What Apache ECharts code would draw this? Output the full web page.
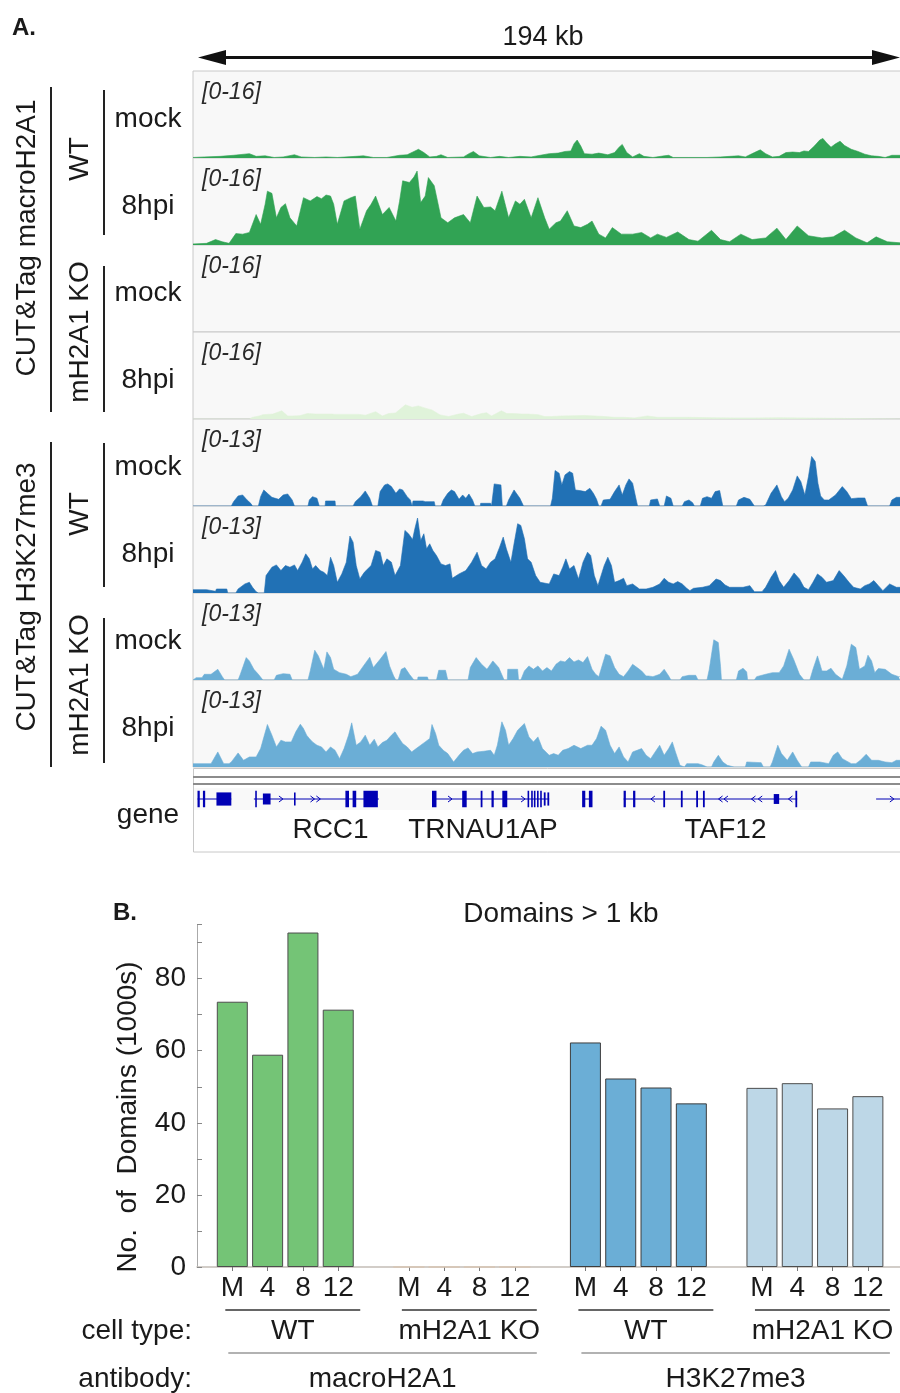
<!DOCTYPE html>
<html><head><meta charset="utf-8">
<script src="https://cdn.jsdelivr.net/npm/echarts@6/dist/echarts.min.js"></script>
<style>html,body{margin:0;padding:0;background:#fff}#c{width:900px;height:1393px}</style>
</head><body><div id="c"></div>
<script>
// ---------------- DATA ----------------
// Genomic window: 194 kb, split into 1568 bins (~124 bp each)
const WINDOW_KB = 194;
const WINDOW_BINS = 1568;

// CUT&Tag macroH2A1 signal, [bin, value]
const macroWT_mock = [[0,0.1],[25,0.2],[60,0.3],[90,0.5],[125,0.8],[140,0.3],[160,0.4],[180,0.1],[200,0.2],[225,0.6],[240,0.2],[270,0.1],[295,0.2],[320,0.1],[360,0.3],[378,0.4],[400,0.1],[430,0.1],[458,0.5],[475,0.6],[490,1.2],[500,1.6],[512,1.0],[525,0.2],[540,0.3],[550,0.6],[565,0.1],[600,0.2],[612,0.8],[622,1.2],[635,0.4],[660,0.1],[680,0.3],[700,0.1],[725,0.3],[750,0.2],[770,0.5],[790,0.8],[810,0.9],[825,1.2],[838,1.3],[845,2.6],[852,3.3],[860,2.2],[868,0.8],[885,0.7],[900,0.9],[920,0.6],[935,1.0],[945,2.0],[952,2.5],[962,1.0],[975,0.2],[990,0.8],[1000,0.3],[1020,0.1],[1045,0.4],[1055,0.5],[1065,0.1],[1100,0.1],[1140,0.1],[1170,0.2],[1190,0.3],[1210,0.4],[1225,0.2],[1245,1.0],[1258,1.5],[1270,0.8],[1285,0.2],[1300,0.3],[1315,1.0],[1330,1.1],[1345,1.0],[1355,1.3],[1365,1.2],[1378,2.2],[1390,3.3],[1397,3.6],[1405,2.8],[1415,2.0],[1425,2.6],[1435,3.1],[1445,2.3],[1460,1.6],[1475,1.2],[1490,0.7],[1505,0.4],[1520,0.3],[1535,0.1],[1550,0.5],[1568,0.5]];
const macroWT_8hpi = [[0,0.2],[30,0.3],[50,1.0],[65,0.6],[80,0.3],[95,2.1],[110,2.0],[125,2.3],[140,5.6],[150,3.8],[160,7.5],[165,9.9],[175,9.5],[185,5.0],[195,6.9],[205,7.6],[215,5.0],[230,3.5],[245,8.7],[260,8.1],[275,8.9],[285,8.5],[295,9.2],[305,9.0],[312,7.5],[320,3.8],[335,8.1],[350,8.7],[360,9.0],[370,2.9],[385,6.3],[395,7.5],[405,9.0],[420,5.6],[435,6.9],[450,4.4],[458,8.0],[465,11.8],[480,11.5],[490,12.5],[497,13.6],[505,7.8],[515,9.0],[522,12.4],[535,10.9],[545,7.0],[550,5.0],[565,4.1],[580,5.0],[600,5.6],[615,4.1],[630,9.0],[645,6.9],[660,7.0],[670,6.3],[685,9.9],[700,5.0],[715,8.1],[725,7.5],[735,8.4],[750,5.0],[765,8.7],[780,5.0],[790,2.9],[805,4.1],[815,4.4],[830,6.3],[845,3.5],[860,3.2],[875,3.8],[885,4.4],[900,2.0],[915,1.3],[930,3.2],[950,2.0],[975,2.0],[995,2.3],[1015,1.3],[1030,2.0],[1050,1.4],[1075,2.4],[1100,1.0],[1120,0.7],[1150,2.7],[1170,1.0],[1190,0.6],[1215,2.0],[1240,1.0],[1270,1.3],[1295,3.1],[1315,1.0],[1340,3.5],[1365,1.7],[1395,1.3],[1420,1.5],[1445,2.7],[1470,1.3],[1495,0.4],[1515,1.5],[1540,0.6],[1568,0.4]];
const macroKO_mock = [[0,0],[1568,0]];
const macroKO_8hpi = [[0,0],[125,0],[132,0.3],[147,0.55],[155,0.8],[177,0.9],[197,1.5],[210,0.55],[221,0.55],[236,0.6],[254,1.0],[272,0.9],[309,0.9],[316,0.85],[368,0.85],[383,0.7],[405,1.35],[420,0.55],[434,1.0],[449,1.1],[471,2.6],[486,2.15],[500,2.4],[515,2.0],[530,1.65],[548,0.75],[567,0.45],[589,0.9],[600,1.05],[618,0.45],[640,1.0],[651,1.15],[662,0.55],[684,1.5],[696,1.0],[710,1.0],[729,0.9],[743,0.9],[765,0.8],[780,0.45],[795,0.45],[817,0.55],[846,0.6],[868,0.65],[891,0.55],[913,0.45],[935,0.3],[957,0.3],[979,0.2],[1008,0.55],[1030,0.3],[1060,0.3],[1100,0.3],[1150,0.25],[1200,0.2],[1250,0.2],[1300,0.25],[1350,0.2],[1400,0.15],[1450,0.1],[1500,0.05],[1568,0]];

// CUT&Tag H3K27me3 signal, [bin, value]
const h3WT_mock = [[0,0],[85,0],[90,0.65],[100,1.5],[110,1.65],[120,0.9],[128,0.4],[132,0],[145,0],[150,1.4],[157,2.4],[165,1.9],[175,1.3],[190,1.0],[200,1.65],[210,1.8],[220,0.9],[225,0],[255,0],[258,0.9],[265,1.4],[275,1.15],[280,0],[293,0],[294,0.75],[315,0.75],[316,0],[355,0],[360,0.65],[372,1.4],[382,2.25],[392,1.15],[398,0],[410,0],[415,2.15],[425,3.15],[432,3.3],[440,2.9],[450,1.9],[458,2.55],[465,2.4],[475,1.4],[482,0.9],[486,0],[488,0.75],[510,0.75],[515,0.65],[535,0.65],[537,0],[550,0],[555,0.9],[565,1.9],[573,2.4],[580,2.15],[590,1.0],[598,1.65],[605,1.15],[612,1.8],[620,0.9],[625,0],[637,0],[638,0.4],[660,0.4],[662,0],[665,0],[668,3.3],[683,3.15],[686,0],[695,0],[700,0.9],[712,2.4],[725,1.15],[733,0],[793,0],[797,1.15],[803,5.3],[812,4.9],[818,3.15],[825,4.65],[835,5.15],[842,4.9],[848,2.4],[858,2.3],[870,2.15],[880,2.65],[888,1.9],[895,1.0],[900,0],[905,0],[910,0.9],[925,1.0],[935,2.15],[945,3.15],[952,1.65],[960,3.15],[967,4.05],[975,3.4],[983,0.9],[986,0],[1012,0],[1015,0.9],[1030,1.05],[1035,0],[1045,0],[1050,1.5],[1060,1.15],[1065,0],[1085,0],[1090,0.65],[1100,0.9],[1108,0.5],[1112,0],[1125,0],[1130,1.15],[1140,1.4],[1150,1.15],[1158,2.15],[1168,2.3],[1175,0],[1205,0],[1210,0.9],[1222,1.3],[1235,1.0],[1245,0],[1265,0],[1270,0.15],[1282,1.9],[1295,3.15],[1305,1.4],[1312,0.65],[1320,1.15],[1330,2.4],[1340,4.5],[1348,3.65],[1357,1.65],[1365,4.4],[1372,7.4],[1380,6.65],[1386,3.4],[1392,1.5],[1400,0.9],[1410,0.9],[1425,1.65],[1440,2.9],[1450,2.15],[1460,1.1],[1475,1.2],[1490,1.2],[1496,0],[1545,0],[1550,0.9],[1560,1.3],[1568,1.3]];
const h3WT_8hpi = [[0,0.5],[30,0.5],[32,0.25],[50,0.25],[52,0.6],[75,0.6],[77,0],[95,0],[100,0.6],[115,1.35],[125,1.6],[132,0.85],[140,0.2],[145,0],[158,0],[162,2.6],[175,3.85],[185,4.2],[195,3.35],[205,4.1],[215,3.85],[225,4.2],[232,3.35],[242,4.6],[250,5.85],[258,5.1],[265,3.6],[272,4.1],[282,3.35],[290,3.1],[298,2.6],[305,5.35],[312,4.1],[320,1.6],[330,2.85],[340,4.6],[348,8.5],[355,7.6],[362,4.1],[370,2.1],[380,3.1],[395,4.1],[405,6.35],[415,6.1],[422,4.1],[430,5.1],[440,4.6],[448,2.6],[460,4.1],[470,9.35],[478,8.85],[487,8.0],[492,9.6],[498,11.2],[505,7.85],[512,8.85],[518,6.6],[525,7.35],[532,6.35],[540,5.6],[550,4.35],[560,4.1],[570,4.35],[575,2.2],[590,2.85],[605,3.35],[618,4.6],[630,6.1],[640,4.1],[650,3.6],[660,4.6],[670,5.1],[680,6.85],[688,8.35],[695,6.6],[705,4.6],[712,7.35],[720,10.35],[727,10.1],[735,8.1],[742,5.1],[750,4.6],[760,2.6],[770,1.6],[790,1.35],[800,2.85],[812,2.6],[820,3.85],[827,5.1],[835,3.6],[845,4.1],[855,2.1],[865,4.6],[875,6.1],[882,5.6],[890,2.6],[898,1.1],[912,4.1],[920,5.35],[928,4.1],[935,1.6],[945,1.85],[955,2.2],[962,1.1],[975,1.35],[990,0.6],[1005,0.6],[1020,0.85],[1035,1.35],[1045,2.2],[1055,1.6],[1065,1.35],[1075,1.7],[1085,1.35],[1095,0.7],[1102,0.35],[1110,0.7],[1130,0.85],[1145,1.1],[1160,2.1],[1170,1.85],[1180,1.2],[1190,0.85],[1200,0.85],[1220,0.85],[1235,1.1],[1245,0.2],[1262,0.2],[1270,0.85],[1282,2.35],[1292,3.35],[1300,1.85],[1310,0.85],[1322,1.85],[1333,3.0],[1345,2.1],[1355,0.85],[1365,0.5],[1375,1.6],[1385,2.85],[1395,2.35],[1405,1.6],[1420,1.85],[1433,3.35],[1443,2.6],[1455,1.6],[1465,0.85],[1480,0.6],[1490,1.1],[1500,1.35],[1510,1.85],[1520,1.1],[1530,0.35],[1545,1.35],[1560,0.85],[1568,0.85]];
const h3KO_mock = [[0,0],[7,0.35],[20,0.35],[25,0.85],[40,0.85],[55,1.6],[65,0.5],[70,0],[100,0],[105,0.85],[118,3.35],[125,2.85],[135,1.6],[145,0.85],[155,0],[180,0],[185,0.7],[200,0.95],[215,0.85],[220,0],[255,0],[260,1.35],[270,4.45],[278,3.6],[290,1.6],[297,4.2],[305,3.35],[312,1.6],[325,1.1],[340,0.85],[350,0.5],[365,0.85],[378,2.1],[392,3.4],[400,1.85],[415,3.1],[428,4.25],[436,2.1],[445,0.6],[450,0],[455,0],[462,1.6],[470,1.85],[480,0.85],[490,0],[498,0],[499,0.45],[520,0.45],[522,0],[540,0],[545,1.45],[560,1.45],[565,0],[610,0],[615,1.85],[628,3.35],[640,2.35],[652,1.6],[665,2.85],[678,1.85],[690,0],[697,0],[698,1.6],[720,1.6],[722,0],[727,0],[735,1.35],[745,2.1],[755,1.6],[765,2.1],[775,1.35],[785,1.85],[795,1.35],[805,2.35],[815,2.85],[825,2.7],[835,3.35],[845,2.7],[855,3.0],[865,2.6],[875,3.5],[885,1.6],[893,0.85],[900,0.5],[905,1.6],[915,3.85],[925,3.6],[935,1.85],[945,0.85],[955,0.5],[965,1.35],[975,2.35],[985,1.85],[995,1.35],[1005,0.6],[1010,0.6],[1020,0.5],[1035,0.85],[1045,1.6],[1055,0.6],[1060,0],[1080,0],[1085,0.5],[1100,0.7],[1115,0.7],[1120,0],[1140,0],[1145,1.6],[1155,6.0],[1165,5.6],[1170,2.0],[1172,0],[1205,0],[1210,1.35],[1220,1.75],[1228,1.2],[1230,0],[1245,0],[1250,0.5],[1270,0.85],[1285,1.1],[1300,1.1],[1310,2.1],[1322,4.6],[1332,3.1],[1345,0.85],[1355,0],[1368,0],[1375,1.6],[1385,3.6],[1395,1.35],[1405,1.35],[1415,1.75],[1425,0.85],[1440,0.1],[1450,2.1],[1460,5.35],[1470,4.85],[1478,1.6],[1490,2.1],[1497,3.7],[1505,2.85],[1512,1.1],[1520,1.7],[1535,1.6],[1550,0.85],[1565,0.5],[1568,0.5]];
const h3KO_8hpi = [[0,0.5],[20,0.5],[40,0.5],[55,2.25],[68,0.5],[80,0.5],[85,0.75],[100,2.1],[112,1.0],[125,1.5],[140,1.5],[150,2.75],[165,6.35],[175,4.75],[185,3.0],[195,4.0],[205,3.75],[218,3.75],[228,5.25],[238,6.4],[245,5.75],[252,4.75],[258,4.25],[265,3.75],[275,3.25],[285,3.0],[295,2.25],[305,3.0],[315,2.5],[325,1.25],[335,2.75],[345,4.75],[352,6.6],[362,3.25],[372,3.75],[382,4.75],[392,3.25],[402,4.15],[410,3.0],[420,3.65],[430,4.0],[440,4.75],[448,5.25],[455,4.5],[465,3.5],[475,3.0],[485,2.25],[495,2.75],[505,3.25],[515,3.75],[525,4.25],[530,6.35],[538,5.0],[545,3.25],[555,2.5],[565,2.0],[578,0.75],[590,1.75],[600,2.5],[610,2.85],[620,2.0],[630,2.25],[645,2.35],[660,2.5],[668,1.75],[675,3.25],[685,6.75],[693,5.5],[700,3.25],[710,4.25],[720,5.5],[735,6.5],[745,4.5],[755,3.75],[765,4.5],[775,2.75],[790,1.75],[800,2.0],[810,1.75],[820,2.5],[832,2.75],[845,3.25],[860,2.75],[875,3.25],[885,3.25],[895,4.25],[905,6.1],[915,5.5],[925,3.25],[935,2.0],[945,3.0],[955,1.5],[965,0.75],[975,2.25],[985,2.5],[995,2.75],[1005,1.75],[1015,1.25],[1025,2.25],[1035,3.25],[1045,1.75],[1055,2.75],[1063,3.75],[1070,2.25],[1080,0.25],[1090,0],[1095,0.5],[1120,0.5],[1130,0.3],[1140,0],[1150,0],[1155,0.75],[1165,1.75],[1175,0.75],[1185,0.25],[1200,0],[1225,0],[1228,0.75],[1260,0.65],[1265,0],[1280,0],[1285,0.75],[1297,3.25],[1305,2.0],[1318,1.0],[1330,2.25],[1340,1.0],[1350,0],[1365,0],[1370,0.75],[1390,0.75],[1410,0.5],[1420,1.75],[1430,2.25],[1440,1.25],[1460,0.5],[1470,0.5],[1480,1.0],[1493,1.9],[1505,1.0],[1520,1.0],[1535,0.75],[1550,0.65],[1560,1.0],[1568,1.0]];

const trackRanges = [16,16,16,16,13,13,13,13];
const trackConditions = ['mock','8hpi','mock','8hpi','mock','8hpi','mock','8hpi'];

// Gene annotation (bins)
const geneIntrons = [[10,85],[135,412],[530,790],[865,884],[955,1340],[1515,1568]];
const geneExons = [[10,15,0.75],[22,27,0.75],[52,85,0.6],[138,141,0.75],[155,172,0.5],[224,227,0.6],[338,346,0.75],[354,362,0.75],[378,410,0.75],[530,540,0.75],[597,607,0.75],[638,642,0.75],[662,667,0.75],[686,697,0.75],[742,745,0.75],[750,753,0.75],[756,759,0.75],[763,766,0.75],[770,773,0.75],[778,782,0.6],[786,790,0.6],[863,870,0.75],[878,886,0.75],[955,960,0.75],[976,981,0.75],[1043,1047,0.75],[1082,1086,0.75],[1116,1120,0.75],[1131,1135,0.75],[1288,1300,0.45],[1336,1340,0.75]];
const geneStrandMarks = [[195,1],[265,1],[278,1],[570,1],[732,1],[1020,-1],[1170,-1],[1182,-1],[1243,-1],[1258,-1],[1325,-1],[1550,1]];
const geneNames = ['RCC1','TRNAU1AP','TAF12'];
const geneNamePos = [305, 643, 1181];

// Panel B: Domains > 1 kb (1000s)
const timeLabels = ['M','4','8','12'];
const macroH2A1_WT = [73.6, 58.9, 92.8, 71.4];
const macroH2A1_KO = [0, 0, 0, 0];
const H3K27me3_WT = [62.3, 52.3, 49.8, 45.4];
const H3K27me3_KO = [49.7, 51.0, 44.0, 47.4];
const cellTypes = ['WT','mH2A1 KO','WT','mH2A1 KO'];
const antibodies = ['macroH2A1','H3K27me3'];

// ---------------- CHART ----------------
const FONT = 'Liberation Sans, Arial, Helvetica, sans-serif';
const TXT = '#1a1a1a';
const GENE_COLOR = '#0000b4';
const trackData = [macroWT_mock, macroWT_8hpi, macroKO_mock, macroKO_8hpi, h3WT_mock, h3WT_8hpi, h3KO_mock, h3KO_8hpi];
const trackColors = ['#31a354','#31a354','#31a354','#e0f3da','#2171b5','#2171b5','#6baed6','#6baed6'];
const TRACK_TOP = 71, TRACK_H = 87;

const chart = echarts.init(document.getElementById('c'), null, {renderer:'canvas'});
const grids = [], xAxes = [], yAxes = [], series = [];

trackData.forEach((d, i) => {
  grids.push({left:193, width:712, top:TRACK_TOP + i*TRACK_H, height:TRACK_H, show:true, outerBoundsMode:'none',
    backgroundColor:'#f8f8f8', borderColor:'#c8c8c8', borderWidth:1});
  xAxes.push({gridIndex:i, type:'value', min:0, max:WINDOW_BINS * 712/707, show:false});
  yAxes.push({gridIndex:i, type:'value', min:0, max:trackRanges[i], show:false});
  series.push({type:'line', xAxisIndex:i, yAxisIndex:i, data:d, symbol:'none', silent:true,
    lineStyle:{width: i===2 ? 0 : 0.6, color:trackColors[i]},
    areaStyle:{color:trackColors[i], opacity:1}});
});

// gene track grid (index 8)
const GI = 8;
grids.push({left:193, width:712, top:788, height:22, show:true, outerBoundsMode:'none', backgroundColor:'#f9f9f9', borderWidth:0});
xAxes.push({gridIndex:GI, type:'value', min:0, max:WINDOW_BINS * 712/707, show:false});
yAxes.push({gridIndex:GI, type:'value', min:0, max:1, show:false});
series.push({type:'custom', xAxisIndex:GI, yAxisIndex:GI, silent:true, data:geneIntrons,
  renderItem:(p, api) => {
    const s = api.coord([api.value(0), 0.5]), e = api.coord([api.value(1), 0.5]);
    return {type:'line', shape:{x1:s[0], y1:s[1], x2:e[0], y2:e[1]}, style:{stroke:GENE_COLOR, lineWidth:1}};
  }});
series.push({type:'custom', xAxisIndex:GI, yAxisIndex:GI, silent:true, data:geneExons,
  renderItem:(p, api) => {
    const h = api.value(2);
    const a = api.coord([api.value(0), 0.5 + h/2]), b = api.coord([api.value(1), 0.5 - h/2]);
    return {type:'rect', shape:{x:a[0], y:a[1], width:Math.max(b[0]-a[0], 1.6), height:b[1]-a[1]}, style:{fill:GENE_COLOR}};
  }});
series.push({type:'custom', xAxisIndex:GI, yAxisIndex:GI, silent:true, data:geneStrandMarks,
  renderItem:(p, api) => {
    const c = api.coord([api.value(0), 0.5]); const d = api.value(1);
    return {type:'polyline', shape:{points:[[c[0]-2*d, c[1]-3],[c[0]+2*d, c[1]],[c[0]-2*d, c[1]+3]]},
      style:{stroke:GENE_COLOR, fill:null, lineWidth:1}};
  }});
series.push({type:'custom', xAxisIndex:GI, yAxisIndex:GI, silent:true, clip:false,
  data:geneNamePos.map(p => [p, 0]),
  renderItem:(p, api) => {
    const c = api.coord([api.value(0), 0]);
    return {type:'text', x:c[0], y:c[1] + 20, style:{text:geneNames[p.dataIndex], fill:TXT,
      font:'28px ' + FONT, align:'center', verticalAlign:'middle'}};
  }});

// bar chart grid (index 9)
const BI = 9;
const barCats = [''];
[0,1,2,3].forEach(() => { timeLabels.forEach(t => barCats.push(t)); barCats.push(''); });
function expand(g, vals) {
  const out = barCats.map(() => '-');
  vals.forEach((v, k) => { out[g*5 + 1 + k] = v; });
  return out;
}
grids.push({left:197, width:706.2, top:924.6, height:342.4, outerBoundsMode:'none', containLabel:false});
xAxes.push({gridIndex:BI, type:'category', data:barCats, boundaryGap:false,
  axisLine:{lineStyle:{color:'#c4bdb6', width:1.5}},
  axisTick:{length:4, lineStyle:{color:'#777'}, interval:(idx, val) => val !== ''},
  axisLabel:{interval:0, margin:7, fontSize:28, color:TXT, fontFamily:FONT}});
yAxes.push({gridIndex:BI, type:'value', min:0, max:95, interval:10,
  axisLine:{show:true, lineStyle:{color:'#aaa', width:1}},
  axisTick:{show:true, inside:true, length:5, lineStyle:{color:'#888'}},
  axisLabel:{fontSize:28, color:TXT, fontFamily:FONT, margin:11,
    formatter:v => (v % 20 === 0 ? String(v) : '')},
  splitLine:{show:false}});
const barGroups = [
  {vals:macroH2A1_WT, color:'#74c476', border:'#4d4d4d'},
  {vals:macroH2A1_KO, color:'#d8c6b4', border:'#d8c6b4'},
  {vals:H3K27me3_WT, color:'#6baed6', border:'#3d3d3d'},
  {vals:H3K27me3_KO, color:'#bdd7e7', border:'#4d4d4d'}
];
barGroups.forEach((g, k) => {
  series.push({type:'bar', xAxisIndex:BI, yAxisIndex:BI, data:expand(k, g.vals), barWidth:31, barGap:'-100%',
    silent:true, itemStyle:{color:g.color, borderColor:g.border, borderWidth:1}});
});

chart.setOption({animation:false, backgroundColor:'#ffffff', grid:grids, xAxis:xAxes, yAxis:yAxes, series:series});

// ---------------- ANNOTATIONS ----------------
const G = [];
function text(t, x, y, opt) {
  opt = opt || {};
  G.push({type:'text', x:x, y:y, rotation:opt.rot || 0, z:10,
    style:{text:t, fill:opt.color || TXT, font:(opt.style || '') + ' ' + (opt.weight || 'normal') + ' ' + (opt.size || 28) + 'px ' + FONT,
      align:opt.align || 'center', verticalAlign:opt.va || 'middle'}});
}
function line(x1, y1, x2, y2, color, w) {
  G.push({type:'line', z:10, shape:{x1:x1, y1:y1, x2:x2, y2:y2}, style:{stroke:color, lineWidth:w}});
}

// Panel A
text('A.', 12, 28, {weight:'bold', size:24, align:'left'});
text(WINDOW_KB + ' kb', 543, 38, {size:27});
line(212, 57.5, 886, 57.5, '#111', 3);
G.push({type:'polygon', z:10, shape:{points:[[198,57.5],[226,50],[226,65]]}, style:{fill:'#111'}});
G.push({type:'polygon', z:10, shape:{points:[[900,57.5],[872,50],[872,65]]}, style:{fill:'#111'}});

for (let i = 0; i < 8; i++) {
  const top = TRACK_TOP + i*TRACK_H;
  text('[0-' + trackRanges[i] + ']', 202, top + 10, {style:'italic', size:23, align:'left', va:'top', color:'#2a2a2a'});
  text(trackConditions[i], 148, top + 48, {});
}
text('gene', 148, 815, {});
// gene area box and separators
G.push({type:'rect', z:5, shape:{x:193.5, y:768.5, width:720, height:83.5}, style:{fill:null, stroke:'#c8c8c8', lineWidth:1}});
line(193, 777, 900, 777, '#8c8c8c', 2);
line(193, 784, 900, 784, '#8c8c8c', 2);

// side brackets
const sideDark = '#222';
line(51, 87, 51, 412, sideDark, 2);
line(51, 442, 51, 767, sideDark, 2);
line(104, 90, 104, 235, sideDark, 2);
line(104, 266, 104, 412, sideDark, 2);
line(104, 443, 104, 587, sideDark, 2);
line(104, 618, 104, 763, sideDark, 2);
text('CUT&Tag macroH2A1', 27, 238, {rot:Math.PI/2});
text('CUT&Tag H3K27me3', 27, 597, {rot:Math.PI/2});
text('WT', 80, 159, {rot:Math.PI/2});
text('mH2A1 KO', 80, 332, {rot:Math.PI/2});
text('WT', 80, 514, {rot:Math.PI/2});
text('mH2A1 KO', 80, 685, {rot:Math.PI/2});

// Panel B
text('B.', 113, 913, {weight:'bold', size:24, align:'left'});
text('Domains > 1 kb', 561, 914, {});
text('No.  of  Domains (1000s)', 128, 1117, {rot:Math.PI/2});
const px = idx => chart.convertToPixel({xAxisIndex:BI}, idx);
const groupLines = [];
for (let g = 0; g < 4; g++) {
  const a = px(g*5 + 1), b = px(g*5 + 4);
  const x1 = a - 7, x2 = b + 22;
  groupLines.push([x1, x2]);
  line(x1, 1310, x2, 1310, '#333', 1.5);
  text(cellTypes[g], (x1 + x2)/2, 1331, {});
}
for (let k = 0; k < 2; k++) {
  const x1 = groupLines[2*k][0] + 3, x2 = groupLines[2*k+1][1];
  line(x1, 1353, x2, 1353, '#999', 1.5);
  text(antibodies[k], (x1 + x2)/2, 1379, {});
}
text('cell type:', 192, 1331, {align:'right'});
text('antibody:', 192, 1379, {align:'right'});

chart.setOption({graphic:G});
</script></body></html>
